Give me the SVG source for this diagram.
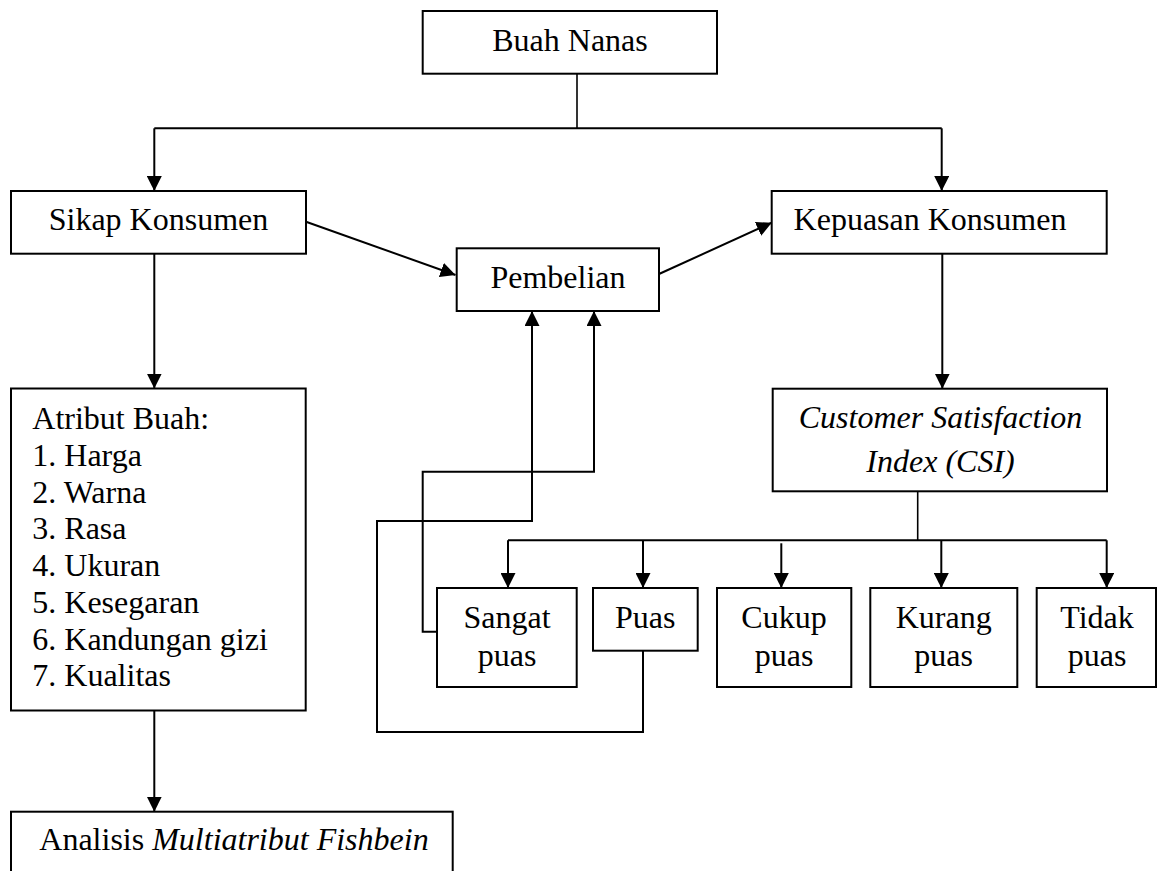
<svg xmlns="http://www.w3.org/2000/svg" width="1157" height="871" viewBox="0 0 1157 871">
<style>
.box{fill:#fff;stroke:#000;stroke-width:2}
.t{font-family:"Liberation Serif","Times New Roman",serif;font-size:32px;fill:#000}
.m{text-anchor:middle}
.i{font-style:italic}
.c{fill:none;stroke:#000;stroke-width:2}
.s{fill:none;stroke:#000;stroke-width:1.6}
</style>
<defs>
<marker id="ah" markerUnits="userSpaceOnUse" markerWidth="15" markerHeight="15" refX="15" refY="7.5" orient="auto" viewBox="0 0 15 15">
<path d="M0,0 L15,7.5 L0,15 z" fill="#000"/>
</marker>
</defs>
<rect width="1157" height="871" fill="#fff"/>
<g id="connectors">
<path class="s" d="M577,74 V128.3"/>
<path class="c" d="M154.3,128.3 H941.7"/>
<path class="c" d="M154.3,128.3 V191" marker-end="url(#ah)"/>
<path class="c" d="M941.7,128.3 V191" marker-end="url(#ah)"/>
<path class="c" d="M306,221.7 L455.5,275" marker-end="url(#ah)"/>
<path class="c" d="M659,274 L771.7,222.7" marker-end="url(#ah)"/>
<path class="c" d="M154.3,254 V388.5" marker-end="url(#ah)"/>
<path class="c" d="M154.3,710.5 V811.7" marker-end="url(#ah)"/>
<path class="c" d="M942.3,254 V388.7" marker-end="url(#ah)"/>
<path class="s" d="M917.7,491.3 V540.3"/>
<path class="c" d="M508,540.3 H1106.7"/>
<path class="c" d="M508,540.3 V588" marker-end="url(#ah)"/>
<path class="c" d="M643,540.3 V588" marker-end="url(#ah)"/>
<path class="c" d="M781.3,543.3 V588" marker-end="url(#ah)"/>
<path class="c" d="M941.3,540.3 V588" marker-end="url(#ah)"/>
<path class="c" d="M1106.7,540.3 V588" marker-end="url(#ah)"/>
<path class="c" d="M436.7,631.7 H422.7 V471.7 H594 V311" marker-end="url(#ah)"/>
<path class="c" d="M643,650.7 V732 H377 V521 H532 V311" marker-end="url(#ah)"/>
</g>
<g id="buah-nanas">
<rect class="box" x="422.7" y="11" width="294.3" height="62.7"/>
<text class="t m" x="570" y="50.7">Buah Nanas</text>
</g>
<g id="sikap-konsumen">
<rect class="box" x="11" y="191" width="295" height="62.7"/>
<text class="t m" x="158.5" y="230">Sikap Konsumen</text>
</g>
<g id="pembelian">
<rect class="box" x="456.7" y="248.3" width="202.3" height="62.7"/>
<text class="t m" x="558" y="288.3">Pembelian</text>
</g>
<g id="kepuasan-konsumen">
<rect class="box" x="771.7" y="191" width="335" height="62.7"/>
<text class="t m" x="930" y="230">Kepuasan Konsumen</text>
</g>
<g id="atribut-buah">
<rect class="box" x="11" y="388.5" width="294.7" height="322"/>
<text class="t" x="32.3" y="429.3">Atribut Buah:</text>
<text class="t" x="32.3" y="466">1. Harga</text>
<text class="t" x="32.3" y="502.7">2. Warna</text>
<text class="t" x="32.3" y="539.4">3. Rasa</text>
<text class="t" x="32.3" y="576.1">4. Ukuran</text>
<text class="t" x="32.3" y="612.8">5. Kesegaran</text>
<text class="t" x="32.3" y="649.5">6. Kandungan gizi</text>
<text class="t" x="32.3" y="686.2">7. Kualitas</text>
</g>
<g id="analisis">
<rect class="box" x="11" y="811.7" width="441.7" height="80"/>
<text class="t" x="39.3" y="850">Analisis <tspan class="i">Multiatribut Fishbein</tspan></text>
</g>
<g id="csi">
<rect class="box" x="772.7" y="388.7" width="334.3" height="102.6"/>
<text class="t m i" x="940.5" y="428">Customer Satisfaction</text>
<text class="t m i" x="940.5" y="471.7">Index (CSI)</text>
</g>
<g id="sangat-puas">
<rect class="box" x="437" y="588" width="139.7" height="99"/>
<text class="t m" x="507" y="628.3">Sangat</text>
<text class="t m" x="507" y="666">puas</text>
</g>
<g id="puas">
<rect class="box" x="593" y="588" width="104.7" height="62.7"/>
<text class="t m" x="645.3" y="628.3">Puas</text>
</g>
<g id="cukup-puas">
<rect class="box" x="717" y="588" width="134.3" height="99"/>
<text class="t m" x="784" y="628.3">Cukup</text>
<text class="t m" x="784" y="666">puas</text>
</g>
<g id="kurang-puas">
<rect class="box" x="870.3" y="588" width="147" height="99"/>
<text class="t m" x="943.7" y="628.3">Kurang</text>
<text class="t m" x="943.7" y="666">puas</text>
</g>
<g id="tidak-puas">
<rect class="box" x="1036.7" y="588" width="119.3" height="99"/>
<text class="t m" x="1097" y="628.3">Tidak</text>
<text class="t m" x="1097" y="666">puas</text>
</g>
</svg>
